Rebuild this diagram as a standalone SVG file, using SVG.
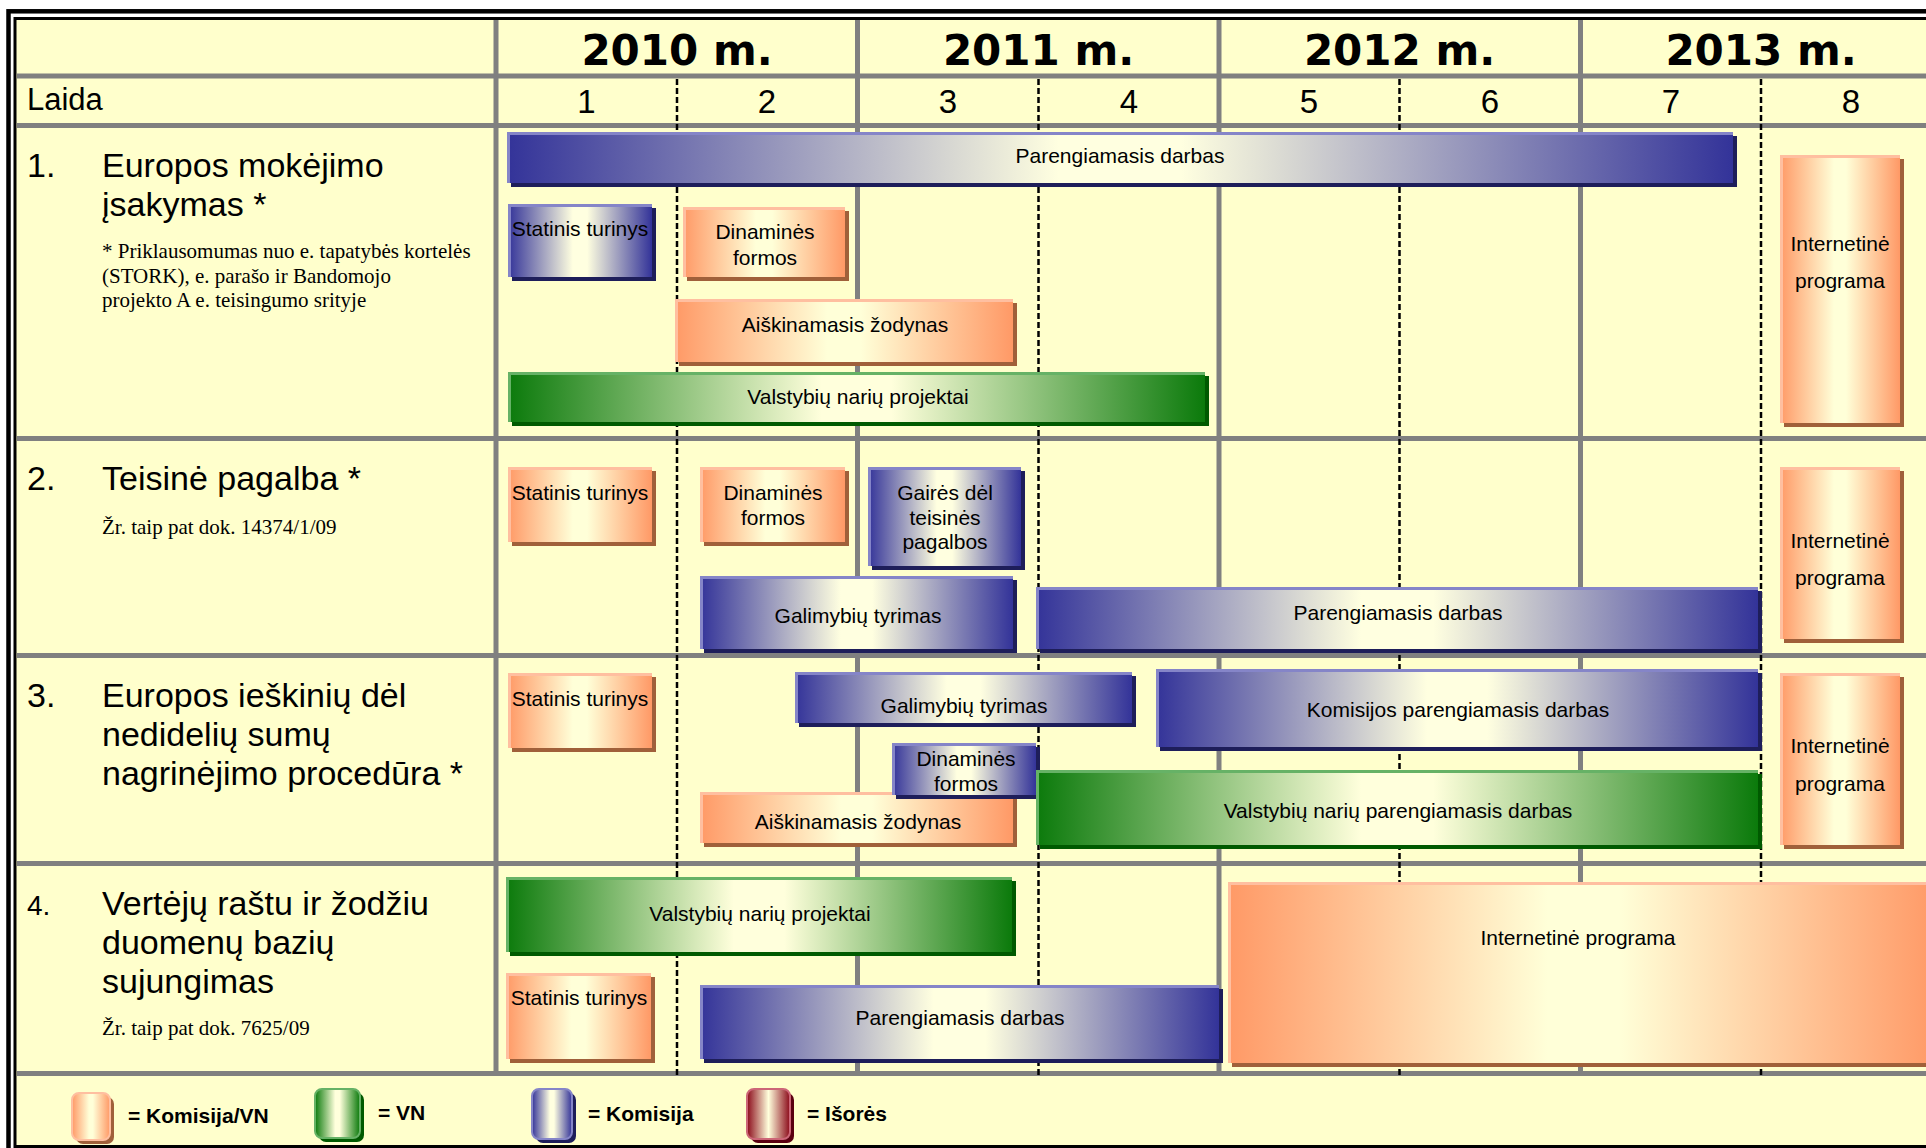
<svg xmlns="http://www.w3.org/2000/svg" width="1926" height="1148" viewBox="0 0 1926 1148">
<defs>
<linearGradient id="gB" x1="0" y1="0" x2="1" y2="0"><stop offset="0" stop-color="#333399"/><stop offset="0.45" stop-color="#FFFFE0"/><stop offset="0.55" stop-color="#FFFFE0"/><stop offset="1" stop-color="#333399"/></linearGradient>
<linearGradient id="gO" x1="0" y1="0" x2="1" y2="0"><stop offset="0" stop-color="#FF9966"/><stop offset="0.45" stop-color="#FFFFD8"/><stop offset="0.55" stop-color="#FFFFD8"/><stop offset="1" stop-color="#FF9966"/></linearGradient>
<linearGradient id="gG" x1="0" y1="0" x2="1" y2="0"><stop offset="0" stop-color="#0B7A0B"/><stop offset="0.45" stop-color="#FFFFDC"/><stop offset="0.55" stop-color="#FFFFDC"/><stop offset="1" stop-color="#0B7A0B"/></linearGradient>
<linearGradient id="gR" x1="0" y1="0" x2="1" y2="0"><stop offset="0" stop-color="#8B0A1A"/><stop offset="0.5" stop-color="#FFFFDC"/><stop offset="1" stop-color="#8B0A1A"/></linearGradient>
</defs>
<style>
.t{font-family:"Liberation Sans",Arial,sans-serif;font-size:21px;text-anchor:middle;fill:#000}
.yr{font-family:"DejaVu Sans",Verdana,sans-serif;font-weight:bold;font-size:42px;text-anchor:middle;fill:#000}
.num{font-family:"Liberation Sans",Arial,sans-serif;font-size:33px;text-anchor:middle;fill:#000}
.lbl{font-family:"Liberation Sans",Arial,sans-serif;font-size:34px;fill:#000}
.fn{font-family:"Liberation Serif","Times New Roman",serif;font-size:21px;fill:#000}
.leg{font-family:"Liberation Sans",Arial,sans-serif;font-size:21px;font-weight:bold;fill:#000}
.grid{stroke:#808080;stroke-width:5;fill:none}
.dash{stroke:#000;stroke-width:2.5;stroke-dasharray:6 3;fill:none}
.shO{fill:#A0603A}.shB{fill:#1E1E5A}.shG{fill:#005A00}.shR{fill:#5A0010}
.hlO{stroke:#FFBFA0;stroke-width:3;fill:none}
.hlB{stroke:#8585C8;stroke-width:3;fill:none}
.hlG{stroke:#66B266;stroke-width:3;fill:none}
.hlR{stroke:#CC6677;stroke-width:3;fill:none}
</style>
<rect x="0" y="0" width="1926" height="1148" fill="#FFFFFF"/>
<rect x="15" y="18.5" width="1930" height="1128" fill="#FFFFCC" stroke="#000" stroke-width="3"/>
<rect x="8.5" y="11.3" width="1940" height="1150" fill="none" stroke="#000" stroke-width="4.5"/>

<g id="grid">
<path class="grid" d="M17 76H1926M17 125.5H1926M17 438.5H1926M17 655.5H1926M17 863.5H1926M17 1073.5H1926"/>
<path class="grid" d="M496 20V1076M857.5 20V1076M1219 20V1076M1580.5 20V1076"/>
<path class="dash" d="M677 79V1076M1038.5 79V1076M1399.5 79V1076M1761 79V1076"/>
</g>

<g id="header">
<text class="yr" x="677" y="65">2010 m.</text>
<text class="yr" x="1038.5" y="65">2011 m.</text>
<text class="yr" x="1399.5" y="65">2012 m.</text>
<text class="yr" x="1761" y="65">2013 m.</text>
<text class="lbl" x="27" y="110" style="font-size:31px">Laida</text>
<text class="num" x="586.5" y="113">1</text>
<text class="num" x="767" y="113">2</text>
<text class="num" x="948" y="113">3</text>
<text class="num" x="1129" y="113">4</text>
<text class="num" x="1309" y="113">5</text>
<text class="num" x="1490" y="113">6</text>
<text class="num" x="1671" y="113">7</text>
<text class="num" x="1851" y="113">8</text>
</g>

<g id="label-1">
<text class="lbl" x="27" y="177">1.</text>
<text class="lbl" x="102" y="177">Europos mokėjimo</text>
<text class="lbl" x="102" y="216">įsakymas *</text>
<text class="fn" x="102" y="258">* Priklausomumas nuo e. tapatybės kortelės</text>
<text class="fn" x="102" y="282.5">(STORK), e. parašo ir Bandomojo</text>
<text class="fn" x="102" y="307">projekto A e. teisingumo srityje</text>
</g>
<g id="label-2">
<text class="lbl" x="27" y="490">2.</text>
<text class="lbl" x="102" y="490">Teisinė pagalba *</text>
<text class="fn" x="102" y="534">Žr. taip pat dok. 14374/1/09</text>
</g>
<g id="label-3">
<text class="lbl" x="27" y="707">3.</text>
<text class="lbl" x="102" y="707">Europos ieškinių dėl</text>
<text class="lbl" x="102" y="746">nedidelių sumų</text>
<text class="lbl" x="102" y="785">nagrinėjimo procedūra *</text>
</g>
<g id="label-4">
<text class="lbl" x="27" y="915" style="font-size:28px">4.</text>
<text class="lbl" x="102" y="915">Vertėjų raštu ir žodžiu</text>
<text class="lbl" x="102" y="954">duomenų bazių</text>
<text class="lbl" x="102" y="993">sujungimas</text>
<text class="fn" x="102" y="1035">Žr. taip pat dok. 7625/09</text>
</g>

<!-- Row 1 -->
<g id="r1-parengiamasis">
<rect class="shB" x="511" y="136" width="1226" height="51"/>
<rect x="507" y="132" width="1226" height="51" fill="url(#gB)"/>
<path class="hlB" d="M508.5 183V133.5H1733"/>
<text class="t" x="1120" y="163">Parengiamasis darbas</text>
</g>
<g id="r1-statinis">
<rect class="shB" x="512" y="208" width="144" height="73"/>
<rect x="508" y="204" width="144" height="73" fill="url(#gB)"/>
<path class="hlB" d="M509.5 277V205.5H652"/>
<text class="t" x="580" y="236">Statinis turinys</text>
</g>
<g id="r1-dinamines">
<rect class="shO" x="687" y="211" width="162" height="70"/>
<rect x="683" y="207" width="162" height="70" fill="url(#gO)"/>
<path class="hlO" d="M684.5 277V208.5H845"/>
<text class="t" x="765" y="239">Dinaminės</text>
<text class="t" x="765" y="264.5">formos</text>
</g>
<g id="r1-aiskinamasis">
<rect class="shO" x="679" y="303" width="338" height="63"/>
<rect x="675" y="299" width="338" height="63" fill="url(#gO)"/>
<path class="hlO" d="M676.5 362V300.5H1013"/>
<text class="t" x="845" y="332">Aiškinamasis žodynas</text>
</g>
<g id="r1-valstybiu">
<rect class="shG" x="512" y="376" width="697" height="50"/>
<rect x="508" y="372" width="697" height="50" fill="url(#gG)"/>
<path class="hlG" d="M509.5 422V373.5H1205"/>
<text class="t" x="858" y="404">Valstybių narių projektai</text>
</g>
<g id="r1-internetine">
<rect class="shO" x="1784" y="159" width="120" height="268"/>
<rect x="1780" y="155" width="120" height="268" fill="url(#gO)"/>
<path class="hlO" d="M1781.5 423V156.5H1900"/>
<text class="t" x="1840" y="251">Internetinė</text>
<text class="t" x="1840" y="288">programa</text>
</g>

<!-- Row 2 -->
<g id="r2-statinis">
<rect class="shO" x="512" y="471" width="144" height="75"/>
<rect x="508" y="467" width="144" height="75" fill="url(#gO)"/>
<path class="hlO" d="M509.5 542V468.5H652"/>
<text class="t" x="580" y="500">Statinis turinys</text>
</g>
<g id="r2-dinamines">
<rect class="shO" x="704" y="471" width="145" height="75"/>
<rect x="700" y="467" width="145" height="75" fill="url(#gO)"/>
<path class="hlO" d="M701.5 542V468.5H845"/>
<text class="t" x="773" y="500">Dinaminės</text>
<text class="t" x="773" y="525">formos</text>
</g>
<g id="r2-gaires">
<rect class="shB" x="872" y="471" width="153" height="99"/>
<rect x="868" y="467" width="153" height="99" fill="url(#gB)"/>
<path class="hlB" d="M869.5 566V468.5H1021"/>
<text class="t" x="945" y="500">Gairės dėl</text>
<text class="t" x="945" y="524.5">teisinės</text>
<text class="t" x="945" y="549">pagalbos</text>
</g>
<g id="r2-galimybiu">
<rect class="shB" x="704" y="580" width="313" height="73"/>
<rect x="700" y="576" width="313" height="73" fill="url(#gB)"/>
<path class="hlB" d="M701.5 649V577.5H1013"/>
<text class="t" x="858" y="623">Galimybių tyrimas</text>
</g>
<g id="r2-parengiamasis">
<rect class="shB" x="1040" y="591" width="722" height="62"/>
<rect x="1036" y="587" width="722" height="62" fill="url(#gB)"/>
<path class="hlB" d="M1037.5 649V588.5H1758"/>
<text class="t" x="1398" y="620">Parengiamasis darbas</text>
</g>
<g id="r2-internetine">
<rect class="shO" x="1784" y="471" width="120" height="172"/>
<rect x="1780" y="467" width="120" height="172" fill="url(#gO)"/>
<path class="hlO" d="M1781.5 639V468.5H1900"/>
<text class="t" x="1840" y="548">Internetinė</text>
<text class="t" x="1840" y="585">programa</text>
</g>

<!-- Row 3 -->
<g id="r3-statinis">
<rect class="shO" x="512" y="677" width="144" height="75"/>
<rect x="508" y="673" width="144" height="75" fill="url(#gO)"/>
<path class="hlO" d="M509.5 748V674.5H652"/>
<text class="t" x="580" y="706">Statinis turinys</text>
</g>
<g id="r3-galimybiu">
<rect class="shB" x="799" y="676" width="337" height="51"/>
<rect x="795" y="672" width="337" height="51" fill="url(#gB)"/>
<path class="hlB" d="M796.5 723V673.5H1132"/>
<text class="t" x="964" y="713">Galimybių tyrimas</text>
</g>
<g id="r3-aiskinamasis">
<rect class="shO" x="704" y="796" width="313" height="51"/>
<rect x="700" y="792" width="313" height="51" fill="url(#gO)"/>
<path class="hlO" d="M701.5 843V793.5H1013"/>
<text class="t" x="858" y="829">Aiškinamasis žodynas</text>
</g>
<g id="r3-dinamines">
<rect class="shB" x="896" y="747" width="144" height="52"/>
<rect x="892" y="743" width="144" height="52" fill="url(#gB)"/>
<path class="hlB" d="M893.5 795V744.5H1036"/>
<text class="t" x="966" y="766">Dinaminės</text>
<text class="t" x="966" y="790.5">formos</text>
</g>
<g id="r3-komisijos">
<rect class="shB" x="1160" y="673" width="602" height="78"/>
<rect x="1156" y="669" width="602" height="78" fill="url(#gB)"/>
<path class="hlB" d="M1157.5 747V670.5H1758"/>
<text class="t" x="1458" y="717">Komisijos parengiamasis darbas</text>
</g>
<g id="r3-valstybiu">
<rect class="shG" x="1040" y="774" width="722" height="75"/>
<rect x="1036" y="770" width="722" height="75" fill="url(#gG)"/>
<path class="hlG" d="M1037.5 845V771.5H1758"/>
<text class="t" x="1398" y="818">Valstybių narių parengiamasis darbas</text>
</g>
<g id="r3-internetine">
<rect class="shO" x="1784" y="677" width="120" height="172"/>
<rect x="1780" y="673" width="120" height="172" fill="url(#gO)"/>
<path class="hlO" d="M1781.5 845V674.5H1900"/>
<text class="t" x="1840" y="753">Internetinė</text>
<text class="t" x="1840" y="790.5">programa</text>
</g>

<!-- Row 4 -->
<g id="r4-valstybiu">
<rect class="shG" x="510" y="881" width="506" height="75"/>
<rect x="506" y="877" width="506" height="75" fill="url(#gG)"/>
<path class="hlG" d="M507.5 952V878.5H1012"/>
<text class="t" x="760" y="921">Valstybių narių projektai</text>
</g>
<g id="r4-statinis">
<rect class="shO" x="510" y="977" width="145" height="86"/>
<rect x="506" y="973" width="145" height="86" fill="url(#gO)"/>
<path class="hlO" d="M507.5 1059V974.5H651"/>
<text class="t" x="579" y="1005">Statinis turinys</text>
</g>
<g id="r4-parengiamasis">
<rect class="shB" x="704" y="989" width="519" height="74"/>
<rect x="700" y="985" width="519" height="74" fill="url(#gB)"/>
<path class="hlB" d="M701.5 1059V986.5H1219"/>
<text class="t" x="960" y="1025">Parengiamasis darbas</text>
</g>
<g id="r4-internetine">
<rect class="shO" x="1232" y="886" width="710" height="181"/>
<rect x="1228" y="882" width="710" height="181" fill="url(#gO)"/>
<path class="hlO" d="M1229.5 1063V883.5H1938"/>
<text class="t" x="1578" y="945">Internetinė programa</text>
</g>

<!-- Legend -->
<g id="legend-komisija-vn">
<rect class="shO" x="76" y="1097" width="38" height="47" rx="7"/>
<rect x="72" y="1093" width="38" height="47" rx="7" fill="url(#gO)" stroke="#FFBFA0" stroke-width="2"/>
<text class="leg" x="128" y="1123">= Komisija/VN</text>
</g>
<g id="legend-vn">
<rect class="shG" x="319" y="1093" width="45" height="49" rx="7"/>
<rect x="315" y="1089" width="45" height="49" rx="7" fill="url(#gG)" stroke="#66B266" stroke-width="2"/>
<text class="leg" x="378" y="1120">= VN</text>
</g>
<g id="legend-komisija">
<rect class="shB" x="536" y="1093" width="40" height="50" rx="7"/>
<rect x="532" y="1089" width="40" height="50" rx="7" fill="url(#gB)" stroke="#8585C8" stroke-width="2"/>
<text class="leg" x="588" y="1121">= Komisija</text>
</g>
<g id="legend-isores">
<rect class="shR" x="751" y="1093" width="43" height="50" rx="7"/>
<rect x="747" y="1089" width="43" height="50" rx="7" fill="url(#gR)" stroke="#CC6677" stroke-width="2"/>
<text class="leg" x="807" y="1121">= Išorės</text>
</g>
</svg>
